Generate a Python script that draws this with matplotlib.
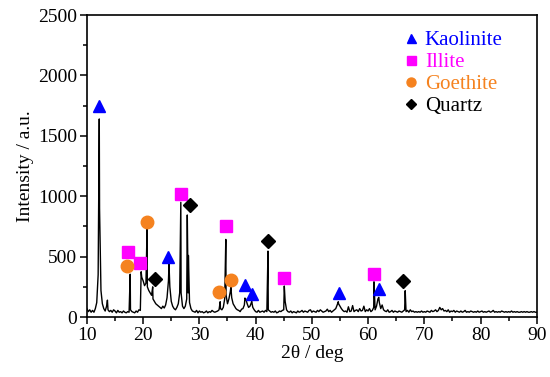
import numpy as np
import matplotlib
matplotlib.use('Agg')
import matplotlib.pyplot as plt
from matplotlib.ticker import MultipleLocator

plt.rcParams['font.family'] = ['Liberation Serif', 'DejaVu Serif']
plt.rcParams['mathtext.fontset'] = 'stix'

# ---- XRD scan, background counts every 0.25 deg from 10 to 90 ----
scan_start = 10.0
scan_step = 0.25
baseline_counts = [
    70, 45, 60, 40,   55, 40, 70, 120,   350, 900, 220, 110,   70, 50, 90, 60,    # 10-13
    45, 55, 40, 60,   50, 35, 55, 40,    45, 35, 50, 40,      35, 45, 40, 60,    # 14-17
    45, 40, 35, 50,   40, 60, 55, 330,   300, 260, 280, 250,  220, 200, 180, 150,  # 18-21
    130, 110, 100, 90,  80, 70, 90, 75,  100, 160, 300, 250,  130, 90, 70, 60,   # 22-25
    80, 110, 200, 200,  90, 70, 90, 150,  200, 120, 70, 50,   45, 40, 55, 35,    # 26-29
    50, 40, 45, 35,   40, 50, 35, 45,    40, 55, 45, 40,      45, 50, 60, 70,    # 30-33
    60, 80, 150, 180,  110, 150, 210, 160,  110, 90, 70, 60,  55, 45, 65, 70,    # 34-37
    100, 150, 110, 80,  90, 120, 80, 60,  45, 40, 55, 40,     45, 50, 40, 55,    # 38-41
    45, 60, 50, 40,   45, 40, 50, 35,    40, 50, 45, 55,      60, 130, 60, 45,   # 42-45
    40, 50, 35, 45,   40, 35, 50, 40,    45, 55, 40, 50,      45, 40, 55, 60,    # 46-49
    40, 50, 45, 40,   55, 45, 60, 50,    40, 45, 50, 65,      45, 55, 40, 50,    # 50-53
    60, 70, 100, 110,  90, 70, 55, 45,   50, 40, 85, 45,      50, 95, 45, 55,    # 54-57
    60, 45, 70, 50,   55, 90, 45, 60,    50, 70, 45, 55,      80, 60, 90, 150,   # 58-61
    120, 70, 100, 60,  50, 45, 60, 40,   45, 55, 40, 50,      45, 40, 50, 45,    # 62-65
    40, 50, 60, 45,   55, 40, 60, 45,    50, 40, 45, 40,      45, 40, 50, 40,    # 66-69
    45, 40, 50, 45,   40, 55, 45, 50,    60, 45, 55, 80,      60, 70, 50, 55,    # 70-73
    45, 60, 40, 50,   45, 55, 40, 50,    45, 40, 50, 40,      45, 55, 40, 45,    # 74-77
    40, 50, 45, 40,   45, 40, 50, 40,    45, 50, 40, 45,      40, 45, 50, 40,    # 78-81
    45, 55, 40, 45,   40, 45, 40, 50,    45, 40, 45, 40,      45, 40, 50, 40,    # 82-85
    45, 40, 45, 40,   40, 45, 40, 45,    40, 45, 40, 40,      45, 40, 45, 40,    # 86-89
    40,
]

# sharp reflections on top of the background
peak_pos = [12.2, 13.65, 17.7, 19.65, 20.7, 21.7, 24.6, 26.7, 27.85, 28.05, 33.7,
            34.7, 35.6, 38.1, 39.3, 42.2, 45.1, 54.7, 61.05, 61.9, 66.6]
peak_top = [1640, 140, 355, 375, 734, 250, 436, 950, 845, 510, 127,
            643, 250, 157, 130, 546, 257, 127, 292, 163, 218]

# phase markers
kaolinite_x = [12.2, 24.5, 38.2, 39.3, 54.8, 62.0]
kaolinite_y = [1750, 500, 265, 190, 196, 232]
illite_x = [17.35, 19.5, 26.7, 34.7, 45.1, 61.0]
illite_y = [535, 450, 1018, 756, 320, 353]
goethite_x = [17.1, 20.6, 33.5, 35.7]
goethite_y = [422, 789, 204, 306]
quartz_x = [22.1, 28.4, 42.2, 66.2]
quartz_y = [317, 930, 629, 295]

x_ticks = [10, 20, 30, 40, 50, 60, 70, 80, 90]
y_ticks = [0, 500, 1000, 1500, 2000, 2500]

# build the pattern: background grid + peak apices, sorted by angle
bg_x = scan_start + scan_step * np.arange(len(baseline_counts))
tt = np.concatenate([bg_x, peak_pos])
cnt = np.concatenate([np.array(baseline_counts, float), peak_top])
order = np.argsort(tt)
tt, cnt = tt[order], cnt[order]

fig = plt.figure(figsize=(5.5, 3.77), dpi=100)
ax = fig.add_axes([0.158, 0.159, 0.818, 0.801])

ax.plot(tt, cnt, color='black', lw=1.0, zorder=2)

c_k = '#0000FF'
c_i = '#FF00FF'
c_g = '#F5821F'
c_q = 'black'
ax.plot(kaolinite_x, kaolinite_y, ls='none', marker='^', ms=9, color=c_k, label='Kaolinite', zorder=3)
ax.plot(illite_x, illite_y, ls='none', marker='s', ms=9, color=c_i, label='Illite', zorder=3)
ax.plot(goethite_x, goethite_y, ls='none', marker='o', ms=9, color=c_g, label='Goethite', zorder=3)
ax.plot(quartz_x, quartz_y, ls='none', marker='D', ms=7.5, color=c_q, label='Quartz', zorder=3)

leg = ax.legend(loc='upper left', bbox_to_anchor=(0.67, 0.997), frameon=False,
                fontsize=15, labelcolor='linecolor', markerscale=0.72,
                handlelength=0.8, handletextpad=0.25, labelspacing=0.12, borderpad=0.2)

ax.set_xlim(10, 90)
ax.set_ylim(0, 2500)
ax.set_xticks(x_ticks)
ax.set_yticks(y_ticks)
ax.xaxis.set_minor_locator(MultipleLocator(5))
ax.yaxis.set_minor_locator(MultipleLocator(250))
ax.tick_params(axis='both', which='major', direction='out', length=5, width=1.1, labelsize=14, pad=2,
               top=False, right=False)
ax.tick_params(axis='both', which='minor', direction='out', length=3, width=1.1, top=False, right=False)
for sp in ax.spines.values():
    sp.set_linewidth(1.2)

ax.set_xlabel(r'2θ / deg', fontsize=14, labelpad=1)
ax.set_ylabel('Intensity / a.u.', fontsize=14, labelpad=3)

fig.savefig('out.png', dpi=100)
